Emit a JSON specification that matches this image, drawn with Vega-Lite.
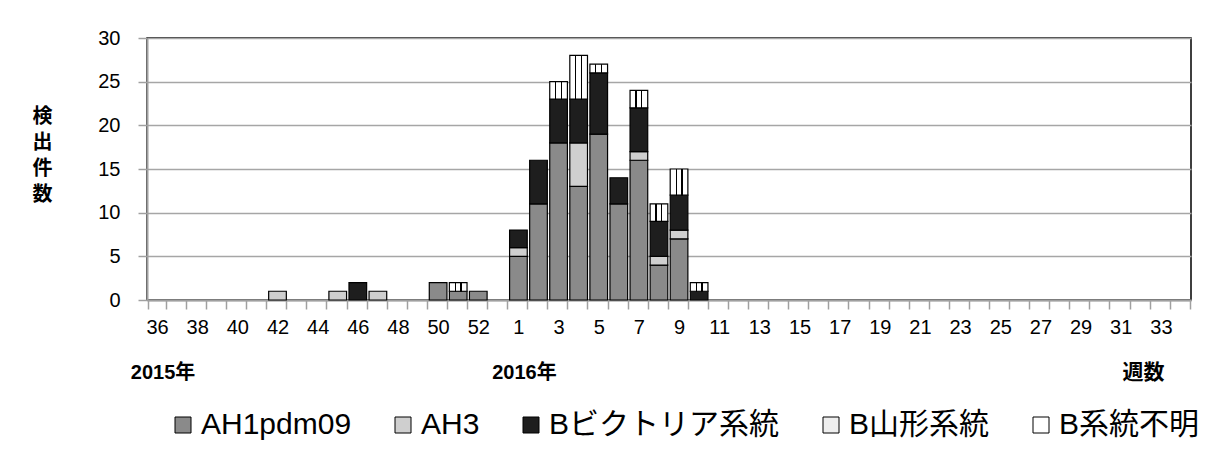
{
  "$schema": "https://vega.github.io/schema/vega-lite/v6.json",
  "width": 1044,
  "height": 262,
  "autosize": {"type": "none"},
  "padding": {"left": 147, "top": 38, "right": 24, "bottom": 156},
  "background": "white",
  "config": {
    "view": {"stroke": "#000000", "strokeWidth": 1.5},
    "font": "Liberation Sans, Noto Sans CJK JP, sans-serif"
  },
  "data": {
    "values": [
      {"week": "42", "type": "AH3", "n": 1},
      {"week": "45", "type": "AH3", "n": 1},
      {"week": "46", "type": "Bビクトリア系統", "n": 2},
      {"week": "47", "type": "AH3", "n": 1},
      {"week": "50", "type": "AH1pdm09", "n": 2},
      {"week": "51", "type": "AH1pdm09", "n": 1},
      {"week": "51", "type": "B山形系統", "n": 1},
      {"week": "52", "type": "AH1pdm09", "n": 1},
      {"week": "1", "type": "AH1pdm09", "n": 5},
      {"week": "1", "type": "AH3", "n": 1},
      {"week": "1", "type": "Bビクトリア系統", "n": 2},
      {"week": "2", "type": "AH1pdm09", "n": 11},
      {"week": "2", "type": "Bビクトリア系統", "n": 5},
      {"week": "3", "type": "AH1pdm09", "n": 18},
      {"week": "3", "type": "Bビクトリア系統", "n": 5},
      {"week": "3", "type": "B山形系統", "n": 2},
      {"week": "4", "type": "AH1pdm09", "n": 13},
      {"week": "4", "type": "AH3", "n": 5},
      {"week": "4", "type": "Bビクトリア系統", "n": 5},
      {"week": "4", "type": "B山形系統", "n": 5},
      {"week": "5", "type": "AH1pdm09", "n": 19},
      {"week": "5", "type": "Bビクトリア系統", "n": 7},
      {"week": "5", "type": "B山形系統", "n": 1},
      {"week": "6", "type": "AH1pdm09", "n": 11},
      {"week": "6", "type": "Bビクトリア系統", "n": 3},
      {"week": "7", "type": "AH1pdm09", "n": 16},
      {"week": "7", "type": "AH3", "n": 1},
      {"week": "7", "type": "Bビクトリア系統", "n": 5},
      {"week": "7", "type": "B山形系統", "n": 2},
      {"week": "8", "type": "AH1pdm09", "n": 4},
      {"week": "8", "type": "AH3", "n": 1},
      {"week": "8", "type": "Bビクトリア系統", "n": 4},
      {"week": "8", "type": "B山形系統", "n": 2},
      {"week": "9", "type": "AH1pdm09", "n": 7},
      {"week": "9", "type": "AH3", "n": 1},
      {"week": "9", "type": "Bビクトリア系統", "n": 4},
      {"week": "9", "type": "B山形系統", "n": 3},
      {"week": "10", "type": "Bビクトリア系統", "n": 1},
      {"week": "10", "type": "B山形系統", "n": 1}
    ]
  },
  "layer": [
    {
      "mark": {"type": "bar", "stroke": "#000000", "strokeWidth": 1.2},
      "encoding": {
        "x": {
          "field": "week",
          "type": "ordinal",
          "scale": {
            "domain": ["36","37","38","39","40","41","42","43","44","45","46","47","48","49","50","51","52","53","1","2","3","4","5","6","7","8","9","10","11","12","13","14","15","16","17","18","19","20","21","22","23","24","25","26","27","28","29","30","31","32","33","34"],
            "paddingInner": 0.12,
            "paddingOuter": 0.06
          },
          "axis": {
            "orient": "bottom",
            "title": null,
            "tickBand": "extent",
            "ticks": true,
            "tickSize": 9,
            "tickWidth": 1.5,
            "tickColor": "#a0a0a0",
            "domainColor": "#a0a0a0",
            "domainWidth": 2,
            "labelAngle": 0,
            "labelOverlap": false,
            "labelFontSize": 20,
            "labelColor": "#000000",
            "labelPadding": 8,
            "labelExpr": "(toNumber(datum.value) >= 36 ? toNumber(datum.value) % 2 == 0 : toNumber(datum.value) % 2 == 1) ? datum.label : ''"
          }
        },
        "y": {
          "field": "n",
          "type": "quantitative",
          "aggregate": "sum",
          "stack": "zero",
          "scale": {"domain": [0, 30], "nice": false},
          "axis": {
            "values": [0, 5, 10, 15, 20, 25, 30],
            "title": ["検", "出", "件", "数"],
            "titleAngle": 0,
            "titleX": -105,
            "titleY": 68,
            "titleBaseline": "top",
            "titleAlign": "center",
            "titleFontSize": 20,
            "titleLineHeight": 26,
            "titleFontWeight": "bold",
            "titleFont": "Noto Sans CJK JP",
            "titleColor": "#000000",
            "grid": true,
            "gridColor": "#a6a6a6",
            "gridWidth": 1.4,
            "domainColor": "#a0a0a0",
            "domainWidth": 2,
            "tickColor": "#a0a0a0",
            "tickSize": 9,
            "tickWidth": 1.5,
            "labelFontSize": 20,
            "labelColor": "#000000",
            "labelPadding": 18
          }
        },
        "fill": {
          "field": "type",
          "type": "nominal",
          "scale": {
            "domain": ["AH1pdm09", "AH3", "Bビクトリア系統", "B山形系統", "B系統不明"],
            "range": ["#8a8a8a", "#cfcfcf", "#1e1e1e", "#eeeeee", "#ffffff"]
          },
          "condition": {
            "test": "datum.type === 'B山形系統'",
            "value": {
              "gradient": "linear",
              "x1": 0, "y1": 0, "x2": 1, "y2": 0,
              "stops": [
                {"offset": 0, "color": "#ffffff"},
                {"offset": 0.3, "color": "#ffffff"},
                {"offset": 0.3, "color": "#000000"},
                {"offset": 0.37, "color": "#000000"},
                {"offset": 0.37, "color": "#ffffff"},
                {"offset": 0.63, "color": "#ffffff"},
                {"offset": 0.63, "color": "#000000"},
                {"offset": 0.7, "color": "#000000"},
                {"offset": 0.7, "color": "#ffffff"},
                {"offset": 1, "color": "#ffffff"}
              ]
            }
          },
          "legend": {
            "title": null,
            "orient": "none",
            "legendX": 21,
            "legendY": 372,
            "direction": "horizontal",
            "symbolType": "square",
            "symbolSize": 256,
            "symbolStrokeColor": "#000000",
            "symbolStrokeWidth": 1,
            "labelFontSize": 30,
            "labelColor": "#000000",
            "labelOffset": 3,
            "labelLimit": 400,
            "columnPadding": 36
          }
        },
        "order": {"field": "type", "sort": "ascending"}
      }
    },
    {
      "mark": {"type": "point", "opacity": 0},
      "encoding": {
        "x": {
          "field": "week",
          "type": "ordinal",
          "axis": {
            "orient": "bottom",
            "values": ["36", "1"],
            "labelExpr": "datum.value == '36' ? '2015年' : '2016年'",
            "labelFontSize": 20,
            "labelFontWeight": "bold",
            "labelColor": "#000000",
            "labelAngle": 0,
            "labelOffset": 6,
            "labelPadding": 62,
            "ticks": false,
            "tickSize": 0,
            "domain": false,
            "grid": false,
            "title": "週数",
            "titleX": 996,
            "titleY": 72,
            "titleBaseline": "middle",
            "titleAlign": "center",
            "titleFontSize": 21,
            "titleFontWeight": "bold",
            "titleColor": "#000000"
          }
        }
      }
    }
  ],
  "resolve": {"axis": {"x": "independent"}}
}
